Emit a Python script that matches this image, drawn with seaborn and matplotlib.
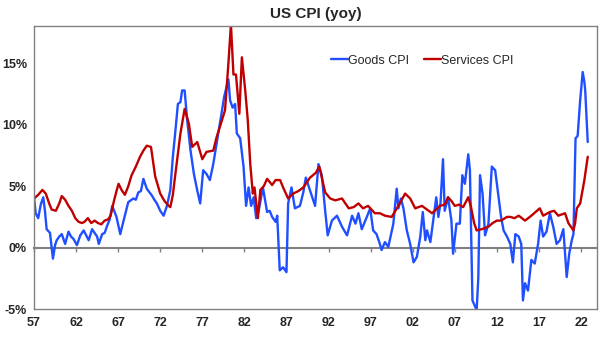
import numpy as np
import pandas as pd
import matplotlib
matplotlib.use("Agg")
import matplotlib.pyplot as plt
import seaborn as sns

# ---- data (decimal years, % yoy) ----
services_t = [1957.0, 1957.5, 1958.0, 1958.4, 1958.8, 1959.1, 1959.6, 1960.0, 1960.3, 1960.7,
              1961.1, 1961.5, 1961.9, 1962.3, 1962.7, 1963.0, 1963.4, 1963.8, 1964.2, 1964.6,
              1965.0, 1965.4, 1965.8, 1966.1, 1966.5, 1966.8, 1967.05, 1967.4, 1967.8, 1968.2,
              1968.6, 1969.1, 1969.6, 1970.0, 1970.4, 1970.9, 1971.4, 1972.0, 1972.5, 1973.0,
              1973.2, 1973.5, 1973.8, 1974.4, 1974.9, 1975.4, 1975.8, 1976.4, 1977.0, 1977.5,
              1978.3, 1978.7, 1979.3, 1979.7, 1980.1, 1980.4, 1980.7, 1981.0, 1981.4, 1981.7,
              1982.1, 1982.4, 1982.7, 1983.0, 1983.2, 1983.6, 1983.9, 1984.3, 1984.7, 1985.3,
              1985.7, 1986.25, 1986.6, 1987.2, 1987.8, 1988.4, 1989.0, 1989.8, 1990.5, 1990.9,
              1991.6, 1992.2, 1992.8, 1993.6, 1994.4, 1995.0, 1995.55, 1996.1, 1996.7, 1997.5,
              1998.1, 1998.7, 1999.5, 2000.3, 2001.1, 2001.7, 2002.3, 2003.1, 2003.7, 2004.3,
              2005.25, 2005.8, 2006.2, 2006.6, 2007.0, 2007.5, 2008.0, 2008.6, 2008.9, 2009.3,
              2009.6, 2010.2, 2011.0, 2011.5, 2012.0, 2012.5, 2013.2, 2013.6, 2014.1, 2014.6,
              2015.35, 2016.1, 2016.6, 2017.1, 2017.5, 2018.3, 2018.8, 2019.3, 2020.1, 2020.5,
              2021.1, 2021.3, 2021.5, 2021.9, 2022.4, 2022.8]
services_v = [4.0, 4.3, 4.7, 4.4, 3.6, 3.1, 3.0, 3.6, 4.2, 3.9,
              3.4, 3.0, 2.4, 2.1, 2.0, 2.1, 2.4, 2.0, 2.2, 2.0,
              1.9, 2.2, 2.3, 2.6, 3.8, 4.6, 5.2, 4.7, 4.3, 5.0,
              5.9, 6.6, 7.4, 7.9, 8.3, 8.2, 5.8, 4.4, 3.8, 3.4,
              3.3, 4.3, 6.0, 9.3, 11.3, 10.1, 8.2, 8.6, 7.2, 7.8,
              7.9, 9.0, 10.3, 11.2, 15.0, 18.2, 14.1, 14.1, 10.9, 15.5,
              12.8, 10.4, 6.8, 4.4, 4.9, 2.4, 4.7, 5.0, 5.6, 5.1,
              5.5, 5.5, 4.9, 4.0, 4.4, 4.6, 4.9, 5.7, 6.1, 6.6,
              4.5, 4.0, 3.85, 4.0, 3.2, 3.3, 3.6, 3.2, 3.4, 2.8,
              2.8, 2.6, 2.5, 3.4, 4.4, 4.0, 3.2, 3.4, 3.1, 2.8,
              3.4, 3.5, 4.1, 3.8, 3.4, 3.5, 3.3, 4.1, 3.4, 2.0,
              1.4, 1.5, 1.7, 2.0, 2.2, 2.2, 2.5, 2.5, 2.4, 2.6,
              2.2, 2.6, 2.9, 3.2, 2.6, 2.9, 3.0, 2.6, 2.8, 2.0,
              1.4, 2.0, 3.2, 3.6, 5.5, 7.4]

goods_t = [1957.0, 1957.2, 1957.5, 1957.8, 1958.1, 1958.3, 1958.5, 1958.9, 1959.25, 1959.5,
           1959.7, 1960.0, 1960.3, 1960.7, 1961.1, 1961.4, 1961.7, 1962.1, 1962.5, 1962.9,
           1963.2, 1963.5, 1963.9, 1964.2, 1964.5, 1964.7, 1965.1, 1965.4, 1965.7, 1966.0,
           1966.3, 1966.8, 1967.25, 1967.5, 1967.8, 1968.2, 1968.8, 1969.1, 1969.4, 1969.7,
           1970.0, 1970.4, 1971.0, 1971.3, 1971.6, 1972.0, 1972.4, 1972.8, 1973.2, 1973.5,
           1973.8, 1974.1, 1974.4, 1974.6, 1974.9, 1975.2, 1975.6, 1976.0, 1976.4, 1976.75,
           1977.1, 1977.5, 1977.9, 1978.3, 1978.9, 1979.3, 1979.6, 1980.1, 1980.3, 1980.6,
           1980.9, 1981.1, 1981.5, 1981.9, 1982.2, 1982.5, 1982.8, 1983.1, 1983.4, 1983.7,
           1984.2, 1984.7, 1985.0, 1985.3, 1985.7, 1985.9, 1986.2, 1986.6, 1987.0, 1987.2,
           1987.6, 1988.0, 1988.6, 1989.0, 1989.3, 1989.8, 1990.4, 1990.8, 1991.2, 1991.6,
           1991.9, 1992.4, 1993.0, 1993.6, 1994.2, 1994.8, 1995.2, 1995.55, 1995.95, 1996.55,
           1996.95, 1997.3, 1997.7, 1998.1, 1998.3, 1998.7, 1999.1, 1999.7, 2000.1, 2000.3,
           2000.6, 2000.9, 2001.3, 2001.7, 2002.1, 2002.5, 2002.9, 2003.2, 2003.5, 2003.7,
           2004.1, 2004.5, 2004.8, 2005.05, 2005.3, 2005.6, 2005.8, 2006.2, 2006.6, 2006.8,
           2007.2, 2007.6, 2007.9, 2008.2, 2008.6, 2008.8, 2009.1, 2009.6, 2009.8, 2010.0,
           2010.3, 2010.6, 2011.0, 2011.4, 2011.8, 2012.2, 2012.5, 2012.8, 2013.2, 2013.6,
           2013.9, 2014.2, 2014.6, 2014.9, 2015.1, 2015.35, 2015.7, 2016.1, 2016.5, 2016.9,
           2017.2, 2017.5, 2017.9, 2018.3, 2018.7, 2019.1, 2019.5, 2019.9, 2020.3, 2020.6,
           2020.9, 2021.1, 2021.35, 2021.6, 2021.9, 2022.2, 2022.4, 2022.5, 2022.8]
goods_v = [4.1, 2.8, 2.4, 3.5, 4.1, 3.0, 1.5, 1.2, -0.9, 0.2,
           0.6, 0.9, 1.1, 0.3, 1.3, 0.9, 0.7, 0.2, 1.0, 1.4,
           1.0, 0.6, 1.5, 1.2, 0.9, 0.3, 1.1, 1.2, 1.8, 2.3,
           3.4, 2.5, 1.1, 1.8, 2.6, 3.7, 4.0, 3.9, 4.5, 4.6,
           5.6, 4.8, 4.25, 3.9, 3.6, 3.0, 2.6, 3.4, 4.7, 7.4,
           9.5, 11.7, 11.85, 12.8, 12.8, 10.4, 7.9, 6.0, 4.65, 3.6,
           6.3, 6.0, 5.5, 6.8, 9.3, 11.0, 12.3, 13.7, 12.0, 11.4,
           11.7, 9.3, 8.9, 6.6, 3.4, 4.9, 3.4, 4.1, 2.4, 3.0,
           4.9, 2.9, 3.0, 2.5, 2.1, 2.6, -1.85, -1.6, -2.0, 3.6,
           4.9, 3.2, 3.4, 4.5, 5.7, 4.65, 3.4, 6.8, 5.9, 3.0,
           1.0, 2.2, 2.6, 1.7, 1.0, 2.6, 1.95, 2.8, 1.5, 2.5,
           3.2, 1.4, 1.1, 0.3, -0.2, 0.45, 0.05, 1.95, 4.8, 3.2,
           4.0, 3.2, 1.4, 0.3, -1.2, -0.75, 0.9, 2.9, 0.6, 1.4,
           0.45, 2.5, 4.1, 2.5, 3.6, 7.2, 3.0, 4.1, 2.2, -0.5,
           1.95, 1.95, 5.9, 5.2, 7.6, 6.3, -4.3, -5.1, -2.4, 5.9,
           4.4, 1.0, 1.95, 6.6, 6.3, 4.1, 2.5, 1.4, 0.9, 0.3,
           -1.2, 1.1, 0.9, 0.3, -4.3, -2.9, -3.5, -1.0, -1.3, 0.3,
           2.2, 0.9, 1.3, 2.8, 1.7, 0.3, 0.6, 1.5, -2.4, -0.5,
           0.6, 1.1, 8.9, 9.1, 12.0, 14.3, 13.5, 12.8, 8.6]

year_ticks = list(range(1957, 2023, 5))
year_labels = [f"{y % 100:02d}" for y in year_ticks]
y_ticks = [-5, 0, 5, 10, 15]
y_labels = ["-5%", "0%", "5%", "10%", "15%"]

goods_df = pd.DataFrame({"t": goods_t, "v": goods_v, "s": "Goods CPI"})
serv_df = pd.DataFrame({"t": services_t, "v": services_v, "s": "Services CPI"})
df = pd.concat([goods_df, serv_df], ignore_index=True)

sns.set_style("white")
plt.rcParams["font.family"] = ["Liberation Sans", "DejaVu Sans"]

fig = plt.figure(figsize=(6.04, 3.38), dpi=100)
ax = fig.add_axes([34 / 604, 1 - 309 / 338, 563 / 604, 283 / 338])

sns.lineplot(data=df, x="t", y="v", hue="s", sort=False, estimator=None,
             palette={"Goods CPI": "#1f4fff", "Services CPI": "#c00000"},
             linewidth=1.7, ax=ax, legend=True)

ymin, ymax = -5, 18.05
ax.set_xlim(1957.0, 2023.9)
ax.set_ylim(ymin, ymax)

for sp in ax.spines.values():
    sp.set_color("#808080")
    sp.set_linewidth(1.0)

ax.set_yticks(y_ticks)
ax.set_yticklabels(y_labels, fontsize=9, fontweight="bold")
ax.set_xticks(year_ticks)
ax.set_xticklabels(year_labels, fontsize=9, fontweight="bold")
ax.tick_params(axis="both", length=0, pad=5)
ax.tick_params(axis="x", pad=6)
ax.set_xlabel("")
ax.set_ylabel("")

# zero-line axis with tick marks
zero_frac = (0 - ymin) / (ymax - ymin)
sec = ax.secondary_xaxis(zero_frac)
sec.set_xticks(year_ticks)
sec.set_xticklabels([])
sec.tick_params(axis="x", direction="out", length=3, color="#808080", width=1)
sec.spines["bottom"].set_color("#808080")
sec.spines["bottom"].set_linewidth(1.5)

ax.set_title("US CPI (yoy)", fontsize=11, fontweight="bold", pad=6)

leg = ax.legend(loc="center", bbox_to_anchor=(0.69, 0.877), ncol=2, frameon=False,
                fontsize=9, handlelength=1.3, handletextpad=0.05, columnspacing=1.2)
for line in leg.get_lines():
    line.set_linewidth(1.7)

fig.savefig("out.png", dpi=100)
